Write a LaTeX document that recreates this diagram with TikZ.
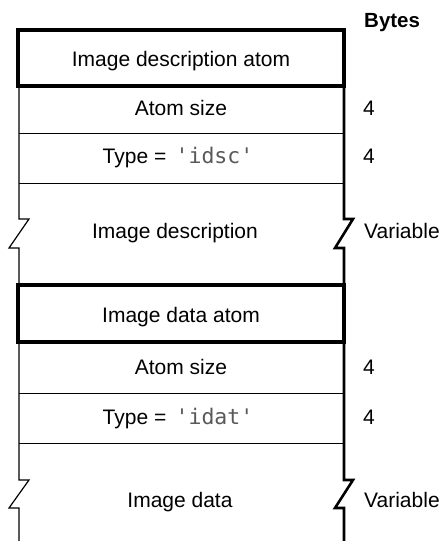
\documentclass[tikz,border=0pt]{standalone}
\usepackage{fontspec}
\setmainfont{Liberation Sans}
\newfontfamily\monof{DejaVu Sans Mono}
\newcommand{\codetxt}[1]{{\monof\fontsize{21.5}{24}\selectfont\color{black!65}#1}}
\begin{document}
\begin{tikzpicture}[x=1pt,y=-1pt,
  font=\fontsize{21}{24}\selectfont,
  leftedge/.style={line width=1.2pt},
  rightedge/.style={line width=2.6pt},
  divider/.style={line width=1pt},
  atombox/.style={draw, line width=3.5pt, minimum width=326pt, inner sep=0pt},
  txt/.style={anchor=base, inner sep=0pt},
  lbl/.style={anchor=base west, inner sep=0pt}]
\useasboundingbox (0,0) rectangle (444,541);

% header
\node[lbl, font=\fontsize{20.5}{24}\selectfont\bfseries] (bytes) at (364,27) {Bytes};

% ---- first atom ----
\node[atombox, minimum height=56pt] (ida) at (181,58) {};
\node[txt] (idat) at (181,66) {Image description atom};

\draw[leftedge] (19,86) -- (19,219) -- (29,219) -- (9,248) -- (19,248) -- (19,285);
\draw[rightedge] (344,86) -- (344,219) -- (353,219) -- (335,248) -- (344,248) -- (344,285);
\draw[divider] (19,133) -- (344,133);
\draw[divider] (19,183) -- (344,183);

\node[txt] (s1) at (181,115) {Atom size};
\node[txt] (t1) at (178,163) {Type = \,\codetxt{'idsc'}};
\node[txt] (d1) at (175,238) {Image description};
\node[lbl] (b1) at (363,115) {4};
\node[lbl] (b2) at (363,163) {4};
\node[lbl] (b3) at (364,238) {Variable};

% ---- second atom ----
\node[atombox, minimum height=57pt] (dat) at (181,313.5) {};
\node[txt] (datt) at (181,322) {Image data atom};

\draw[leftedge] (19,342) -- (19,480) -- (29,480) -- (9,508) -- (19,508) -- (19,541);
\draw[rightedge] (344,342) -- (344,480) -- (353,480) -- (335,508) -- (344,508) -- (344,541);
\draw[divider] (19,393) -- (344,393);
\draw[divider] (19,443) -- (344,443);

\node[txt] (s2) at (181,374) {Atom size};
\node[txt] (t2) at (178,424) {Type = \,\codetxt{'idat'}};
\node[txt] (d2) at (180,507) {Image data};
\node[lbl] (b4) at (363,374) {4};
\node[lbl] (b5) at (363,424) {4};
\node[lbl] (b6) at (364,507) {Variable};
\end{tikzpicture}
\end{document}
